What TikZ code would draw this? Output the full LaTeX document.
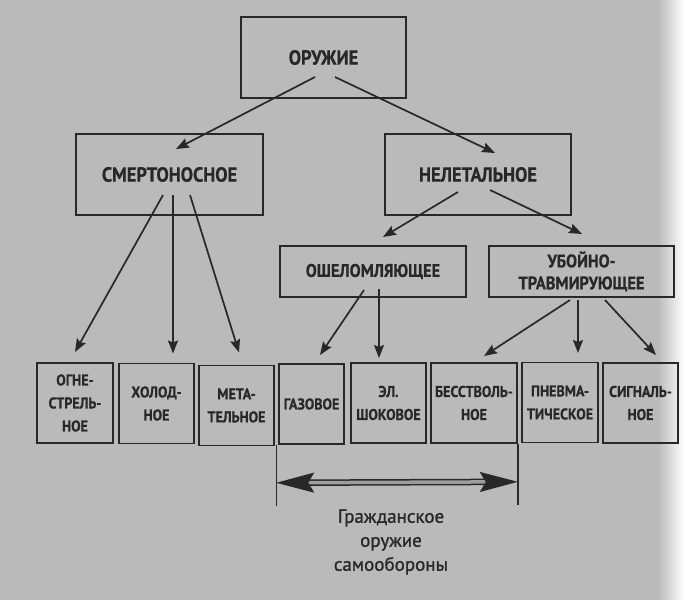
\documentclass[tikz,border=0pt]{standalone}
\usepackage{fontspec}
\usetikzlibrary{arrows.meta,calc}
\newfontfamily\labelfont{PT Sans}[FakeStretch=0.9,FakeBold=0.6]
\newfontfamily\notefont{PT Sans}[FakeBold=1.2]
\definecolor{paper}{RGB}{186,186,186}
\definecolor{ink}{RGB}{40,40,40}

\begin{document}
\begin{tikzpicture}[x=1pt,y=-1pt]
        \tikzset{box/.style={draw=ink,line width=1.6pt,text=ink,align=center,inner sep=0pt},
            big/.style={box,minimum height=81pt,font=\labelfont\bfseries\fontsize{20.4}{24}\selectfont},
            mid/.style={box,minimum height=51pt,font=\labelfont\bfseries\fontsize{18.2}{22}\selectfont},
            leaf/.style={box,minimum height=80pt,font=\labelfont\bfseries\fontsize{15.6}{23}\selectfont},
            arr/.style={draw=ink,line width=1.7pt,-{Stealth[length=13pt,width=10pt,inset=2pt]}},
            span/.style={draw=ink,line width=1.5pt,double=paper!80!ink,double distance=3.5pt,
                {Stealth[length=38pt,width=20pt,inset=6pt]}-{Stealth[length=38pt,width=20pt,inset=6pt]}}}
        % paper
        \fill[paper] (0,0) rectangle (689,600);
        \shade[left color=paper,right color=white] (658,0) rectangle (684,600);
        \fill[white] (684,0) rectangle (689,600);
        \useasboundingbox (0,0) rectangle (689,600);
        % upper levels
        \node[big,minimum width=165pt] (weapon) at (323.5,57.5) {ОРУЖИЕ};
        \node[big,minimum width=187pt] (lethal) at (169.5,174.5) {СМЕРТОНОСНОЕ};
        \node[big,minimum width=186pt] (nonlethal) at (478,174.5) {НЕЛЕТАЛЬНОЕ};
        \node[mid,minimum width=186pt] (stun) at (373,271.5) {ОШЕЛОМЛЯЮЩЕЕ};
        \node[mid,minimum width=185pt] (trauma) at (581.5,271.5) {УБОЙНО-\\ТРАВМИРУЮЩЕЕ};
        % leaves
        \node[leaf,minimum width=76pt] (fire) at (75,403) {ОГНЕ-\\СТРЕЛЬ-\\НОЕ};
        \node[leaf,minimum width=75pt] (cold) at (156.5,403.5) {ХОЛОД-\\НОЕ};
        \node[leaf,minimum width=75pt] (throw) at (236.5,405.5) {МЕТА-\\ТЕЛЬНОЕ};
        \node[leaf,minimum width=65pt] (gas) at (311.5,404) {ГАЗОВОЕ};
        \node[leaf,minimum width=75pt] (shock) at (388.5,403) {ЭЛ.\\ШОКОВОЕ};
        \node[leaf,minimum width=86pt] (barrel) at (474,403) {БЕССТВОЛЬ-\\НОЕ};
        \node[leaf,minimum width=76pt] (pneum) at (560,402.5) {ПНЕВМА-\\ТИЧЕСКОЕ};
        \node[leaf,minimum width=75pt] (signal) at (640.5,403) {СИГНАЛЬ-\\НОЕ};
        % arrows
        \draw[arr] ($(weapon)+(-8.5,19.5)$) -- ($(lethal)+(6.5,-25.5)$);
        \draw[arr] ($(weapon)+(11.5,19.5)$) -- ($(nonlethal)+(17,-21.5)$);
        \draw[arr] ($(lethal)+(-6.5,20.5)$) -- ($(fire)+(0,-51)$);
        \draw[arr] ($(lethal)+(3.5,20.5)$) -- ($(cold)+(16.5,-50)$);
        \draw[arr] ($(lethal)+(20.5,20.5)$) -- ($(throw)+(2.5,-53)$);
        \draw[arr] ($(nonlethal)+(-20,17.5)$) -- ($(stun)+(10,-34.5)$);
        \draw[arr] ($(nonlethal)+(12,15.5)$) -- ($(trauma)+(0.5,-37.5)$);
        \draw[arr] ($(stun)+(-9,18.5)$) -- ($(gas)+(8.5,-49)$);
        \draw[arr] ($(stun)+(6,17.5)$) -- ($(shock)+(-9.5,-45)$);
        \draw[arr] ($(trauma)+(-11.5,28.5)$) -- ($(barrel)+(10,-47)$);
        \draw[arr] ($(trauma)+(-3.5,28.5)$) -- ($(pneum)+(18,-49.5)$);
        \draw[arr] ($(trauma)+(23.5,28.5)$) -- ($(signal)+(15.5,-48)$);
        % civil self-defence span
        \coordinate (lefttop) at ($(gas.south west)+(-2,0)$);
        \coordinate (righttop) at (barrel.south east);
        \draw[ink,line width=1.4pt] (lefttop) -- ++(0,61);
        \draw[ink,line width=1.4pt] (righttop) -- ++(0,61);
        \draw[span] ($(lefttop)+(0,38)$) -- ($(righttop)+(0,38)$);
        \node[text=ink,align=center,font=\notefont\fontsize{19}{24}\selectfont] (civil) at (391,542)
            {Гражданское\\оружие\\самообороны};
\end{tikzpicture}
\end{document}
